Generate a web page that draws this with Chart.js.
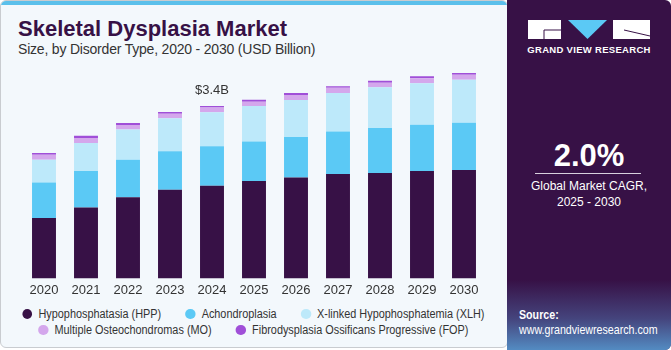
<!DOCTYPE html>
<html>
<head>
<meta charset="utf-8">
<script src="https://cdn.jsdelivr.net/npm/chart.js@4.4.0/dist/chart.umd.min.js"></script>
<style>
  html, body { margin: 0; padding: 0; }
  body { width: 671px; height: 350px; position: relative; overflow: hidden; background: #fff; font-family: "Liberation Sans", Arial, sans-serif; }
  .card { position: absolute; left: 0; top: 0; width: 508px; height: 348px; background: #f3f8fc; border: 1px solid #c9ccd0; border-radius: 6px; box-sizing: border-box; overflow: hidden; }
  .card .stripe { position: absolute; left: 0; top: 0; right: 0; height: 4px; background: #5bc0eb; }
  .title { position: absolute; left: 17px; top: 15px; font-size: 22px; font-weight: bold; color: #371146; }
  .subtitle { position: absolute; left: 17px; top: 40px; font-size: 14px; color: #333; letter-spacing: -0.2px; }
  #chartBox { position: absolute; left: 0; top: 61px; width: 505px; height: 240px; }
  /* the reference uses a narrow face; squeeze Liberation Sans to match */
  .legend { position: absolute; left: 0; top: 305px; width: 505px; font-size: 12.5px; color: #333; transform: scaleX(0.87); transform-origin: 252px 0; }
  .legend .row { display: flex; justify-content: center; height: 16px; align-items: center; }
  .legend .item { display: flex; align-items: center; margin: 0 14px; white-space: nowrap; }
  .legend .dot { width: 11.5px; height: 10px; border-radius: 50%; margin-right: 7px; }
  .side { position: absolute; left: 507px; top: 0; width: 164px; height: 350px; background: #371146; border-radius: 0 6px 6px 0; overflow: hidden; color: #fff; }
  .side .glow { position: absolute; left: 0; bottom: 0; width: 100%; height: 70px; background: linear-gradient(180deg, rgba(55,17,70,0) 0%, rgba(80,110,170,0.55) 55%, rgba(90,170,225,0.8) 100%); }
  .brand { position: absolute; left: 0; top: 44px; width: 164px; text-align: center; font-size: 9.5px; font-weight: bold; letter-spacing: 0.3px; }
  .cagr { position: absolute; left: 0; top: 138px; width: 164px; text-align: center; font-size: 31px; font-weight: bold; }
  .rule { position: absolute; left: 28px; top: 173px; width: 106px; height: 1px; background: #d8d0de; }
  .cagrText { position: absolute; left: 0; top: 178px; width: 164px; text-align: center; font-size: 12px; line-height: 16px; }
  .source { position: absolute; left: 12px; top: 307px; font-size: 13px; line-height: 15px; transform: scaleX(0.82); transform-origin: 0 0; white-space: nowrap; }
</style>
</head>
<body>
<div class="card">
  <div class="stripe"></div>
  <div class="title">Skeletal Dysplasia Market</div>
  <div class="subtitle">Size, by Disorder Type, 2020 - 2030 (USD Billion)</div>
  <div id="chartBox"><canvas id="chart"></canvas></div>
  <div class="legend" id="legend"></div>
</div>
<div class="side">
  <div class="glow"></div>
  <svg style="position:absolute;left:21px;top:20px" width="122" height="20" viewBox="0 0 122 20">
    <rect x="0" y="0" width="33" height="19" fill="#fff"/>
    <polygon points="40,0 79,0 59.5,19" fill="#5bc9f5"/>
    <rect x="85" y="0" width="37" height="19" fill="#fff"/>
    <line x1="96" y1="10" x2="122" y2="16" stroke="#371146" stroke-width="1"/>
    <line x1="16" y1="10" x2="33" y2="10" stroke="#371146" stroke-width="1"/>
    <line x1="16" y1="10" x2="16" y2="19" stroke="#371146" stroke-width="1"/>
  </svg>
  <div class="brand">GRAND VIEW RESEARCH</div>
  <div class="cagr">2.0%</div>
  <div class="rule"></div>
  <div class="cagrText">Global Market CAGR,<br>2025 - 2030</div>
  <div class="source"><b>Source:</b><br>www.grandviewresearch.com</div>
</div>

<script>
// values (USD billion)
const years = ['2020', '2021', '2022', '2023', '2024', '2025', '2026', '2027', '2028', '2029', '2030'];
const hpp = [1.19, 1.40, 1.60, 1.75, 1.83, 1.92, 1.99, 2.06, 2.08, 2.12, 2.14];
const achondroplasia = [0.70, 0.72, 0.74, 0.76, 0.78, 0.78, 0.80, 0.84, 0.89, 0.91, 0.93];
const xlh = [0.45, 0.55, 0.60, 0.65, 0.67, 0.70, 0.73, 0.76, 0.80, 0.82, 0.85];
const mo = [0.10, 0.10, 0.085, 0.09, 0.09, 0.085, 0.10, 0.10, 0.09, 0.10, 0.10];
const fop = [0.033, 0.045, 0.04, 0.035, 0.033, 0.04, 0.04, 0.033, 0.04, 0.04, 0.033];

const seriesNames = ['Hypophosphatasia (HPP)', 'Achondroplasia', 'X-linked Hypophosphatemia (XLH)',
    'Multiple Osteochondromas (MO)', 'Fibrodysplasia Ossificans Progressive (FOP)'];
const seriesColors = ['#371146', '#5bc9f5', '#bde9fa', '#d4a7ec', '#a04fd8'];
const seriesData = [hpp, achondroplasia, xlh, mo, fop];

// callout over one bar
const calloutIndex = 4;
const calloutText = '$3.4B';

const calloutPlugin = {
    id: 'callout',
    afterDatasetsDraw(chart) {
        const meta = chart.getDatasetMeta(seriesData.length - 1);
        const bar = meta.data[calloutIndex];
        if (!bar) return;
        const ctx = chart.ctx;
        ctx.save();
        ctx.font = '13px "Liberation Sans", Arial, sans-serif';
        ctx.fillStyle = '#333';
        ctx.textAlign = 'center';
        ctx.textBaseline = 'bottom';
        ctx.fillText(calloutText, bar.x, bar.y - 9);
        ctx.restore();
    }
};

new Chart(document.getElementById('chart'), {
    type: 'bar',
    data: {
        labels: years,
        datasets: seriesData.map((values, i) => ({
            label: seriesNames[i],
            data: values,
            backgroundColor: seriesColors[i],
            borderWidth: 0,
            barPercentage: 0.57,
            categoryPercentage: 1
        }))
    },
    options: {
        responsive: true,
        maintainAspectRatio: false,
        animation: false,
        layout: { padding: { left: 22, right: 21, top: 0, bottom: 0 } },
        plugins: { legend: { display: false }, tooltip: { enabled: false } },
        scales: {
            x: {
                stacked: true,
                grid: { display: false, drawTicks: false },
                border: { display: false },
                ticks: { color: '#333', font: { size: 13, family: '"Liberation Sans", Arial, sans-serif' }, padding: 4 }
            },
            y: { stacked: true, display: false, min: 0, max: 4.27 }
        }
    },
    plugins: [calloutPlugin]
});

// legend: two centred rows like the reference
const legendEl = document.getElementById('legend');
[[0, 1, 2], [3, 4]].forEach(row => {
    const rowEl = document.createElement('div');
    rowEl.className = 'row';
    row.forEach(i => {
        const item = document.createElement('div');
        item.className = 'item';
        item.innerHTML = `<span class="dot" style="background:${seriesColors[i]}"></span>${seriesNames[i]}`;
        rowEl.appendChild(item);
    });
    legendEl.appendChild(rowEl);
});
</script>
</body>
</html>
